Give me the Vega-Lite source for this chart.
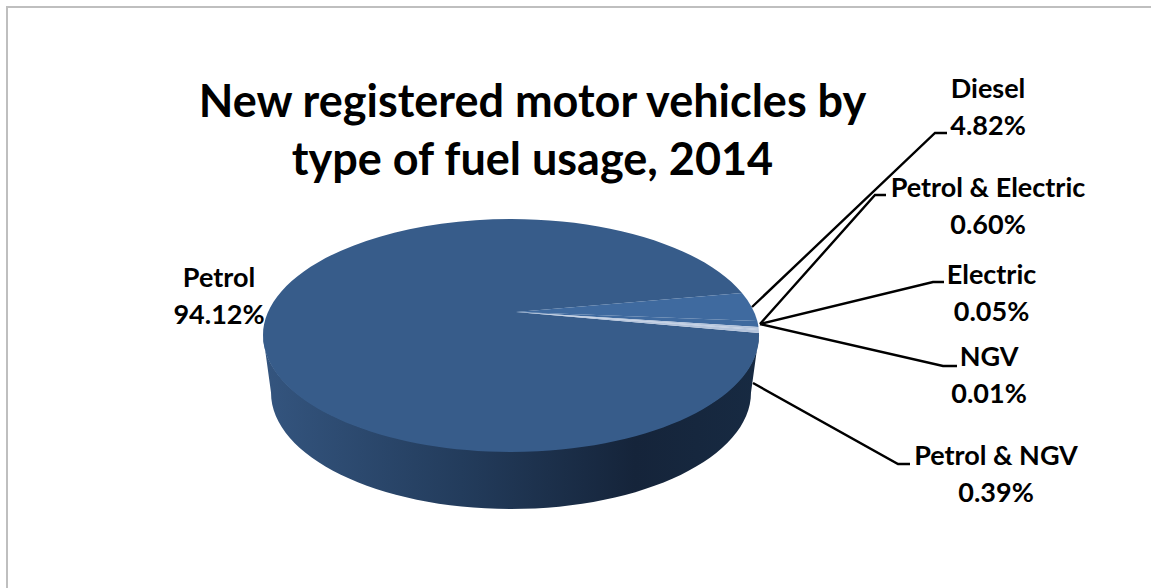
{
"$schema":"https://vega.github.io/schema/vega-lite/v6.json",
"width":1151,"height":588,"autosize":{"type":"none"},"padding":0,
"background":"white",
"view":{"stroke":null},
"title":{"text":["New registered motor vehicles by","type of fuel usage, 2014"],"font":"Lato","fontSize":45,"fontWeight":"bold","color":"#000000","lineHeight":58,"anchor":"middle","frame":"group","dx":-43,"offset":-184},
"data":{"values":[
{"fuel":"Petrol","share":0.9412},
{"fuel":"Diesel","share":0.0482},
{"fuel":"Petrol & Electric","share":0.006},
{"fuel":"Electric","share":0.0005},
{"fuel":"NGV","share":0.0001},
{"fuel":"Petrol & NGV","share":0.0039}
]},
"resolve":{"scale":{"shape":"independent","color":"independent"}},
"layer":[
{"data":{"values":[{"part":"frame"}]},
 "mark":{"type":"point","shape":"M-568.5,294 L-568.5,-287 L575.5,-287","size":4,"filled":false,"stroke":"#bfbfbf","strokeWidth":2,"opacity":1},"encoding":{}},
{"data":{"values":[{"part":"side"}]},
 "mark":{"type":"point","shape":"M-312.5,40.5 A248,116.5 0 0 0 183.5,40.5 L175.5,98.5 A240,116.5 0 0 1 -304.5,98.5 Z","size":4,"filled":true,"opacity":1,"strokeWidth":0,
 "fill":{"gradient":"linear","x1":0,"y1":0,"x2":1,"y2":0,"stops":[{"offset":0,"color":"#34557f"},{"offset":0.4,"color":"#233c5c"},{"offset":0.75,"color":"#15243a"},{"offset":1,"color":"#172a42"}]}},"encoding":{}},
{"mark":{"type":"point","size":4,"filled":true,"opacity":1,"strokeWidth":0},
 "encoding":{
 "shape":{"field":"fuel","type":"nominal","legend":null,"scale":{"domain":["Petrol","Diesel","Petrol & Electric","Electric","NGV","Petrol & NGV"],"range":[
  "M-59.5,18 L166.5,-1 A248,116.5 0 1 0 183.5,39 Z",
  "M-59.5,18 L166.5,-1 A248,116.5 0 0 1 181.8,27 Z",
  "M-59.5,18 L181.8,27 A248,116.5 0 0 1 183,33 Z",
  "M-59.5,18 L183,33 A248,116.5 0 0 1 183.2,35 Z",
  "M-59.5,18 L183.2,35 A248,116.5 0 0 1 183.3,36 Z",
  "M-59.5,18 L183.3,36 A248,116.5 0 0 1 183.5,39 Z"]}},
 "color":{"field":"fuel","type":"nominal","legend":null,"scale":{"domain":["Petrol","Diesel","Petrol & Electric","Electric","NGV","Petrol & NGV"],"range":["#375c8a","#3f6a9f","#3f6a9f","#b4c4dc","#b4c4dc","#b4c4dc"]}}
 }},
{"transform":[{"filter":"datum.share < 0.9"}],
 "mark":{"type":"point","size":4,"filled":false,"stroke":"#000000","strokeWidth":2.4,"opacity":1},
 "encoding":{
 "shape":{"field":"fuel","type":"nominal","legend":null,"scale":{"domain":["Diesel","Petrol & Electric","Electric","NGV","Petrol & NGV"],"range":[
  "M176.5,13 L359.5,-161 L371.5,-161",
  "M184.5,30 L299.5,-99 L310.5,-99",
  "M184.5,30 L357.5,-12 L368.5,-12",
  "M184.5,30 L367.5,72 L381.5,72",
  "M177.5,89 L322.5,170 L334.5,170"]}}
 }},
{"mark":{"type":"text","font":"Lato","fontSize":27,"fontWeight":"bold","color":"#000000","dy":-18.5,"align":"center","baseline":"middle"},
 "encoding":{
 "x":{"field":"share","type":"quantitative","axis":null,"scale":{"zero":false,"nice":false,"domain":[0.0001,0.0005,0.0039,0.006,0.0482,0.9412],"range":[989,991.5,996,988,988,219]}},
 "y":{"field":"share","type":"quantitative","axis":null,"scale":{"zero":false,"nice":false,"domain":[0.0001,0.0005,0.0039,0.006,0.0482,0.9412],"range":[376.5,294.5,475,207,108,297]}},
 "text":{"field":"fuel","type":"nominal"}}},
{"mark":{"type":"text","font":"Lato","fontSize":27,"fontWeight":"bold","color":"#000000","dy":18.5,"align":"center","baseline":"middle"},
 "encoding":{
 "x":{"field":"share","type":"quantitative","axis":null,"scale":{"zero":false,"nice":false,"domain":[0.0001,0.0005,0.0039,0.006,0.0482,0.9412],"range":[989,991.5,996,988,988,219]}},
 "y":{"field":"share","type":"quantitative","axis":null,"scale":{"zero":false,"nice":false,"domain":[0.0001,0.0005,0.0039,0.006,0.0482,0.9412],"range":[376.5,294.5,475,207,108,297]}},
 "text":{"field":"share","type":"quantitative","format":".2%"}}}
]
}
